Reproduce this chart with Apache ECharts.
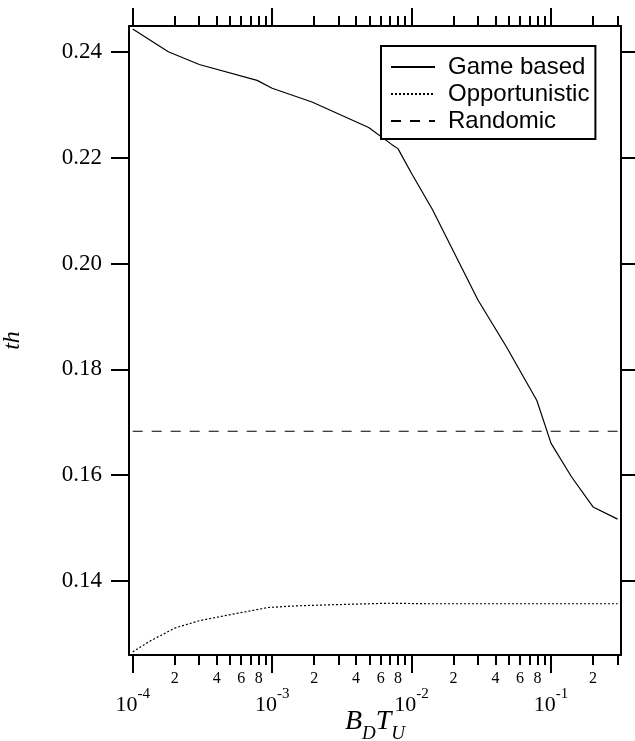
<!DOCTYPE html>
<html>
<head>
<meta charset="utf-8">
<script src="https://cdn.jsdelivr.net/npm/echarts@6/dist/echarts.min.js"></script>
<style>
  html, body { margin: 0; padding: 0; background: #fff; }
  #chart { width: 635px; height: 741px; }
</style>
</head>
<body>
<div id="chart"></div>
<script>
// B_D T_U values (x) and throughput th (y)
const gameX = [1e-4, 1.8e-4, 3e-4, 7.8e-4, 1e-3, 1.93e-3, 4.92e-3, 7.19e-3, 7.98e-3, 1e-2, 1.41e-2, 2.99e-2, 4.77e-2, 7.91e-2, 1e-1, 1.4e-1, 2e-1, 3e-1];
const gameY = [0.2443, 0.2400, 0.2376, 0.2346, 0.2331, 0.2305, 0.2257, 0.2225, 0.2217, 0.2170, 0.2102, 0.1931, 0.1843, 0.1741, 0.1660, 0.1597, 0.1540, 0.1517];

const oppX = [1e-4, 1.3e-4, 2e-4, 3e-4, 4.9e-4, 9.4e-4, 1.47e-3, 2.54e-3, 6.84e-3, 1.32e-2, 3e-1];
const oppY = [0.1266, 0.1285, 0.1311, 0.1325, 0.1336, 0.1350, 0.1353, 0.1355, 0.1358, 0.1357, 0.1357];

const randX = [1e-4, 3e-1];
const randY = [0.1683, 0.1683];

const yTicks = [0.14, 0.16, 0.18, 0.20, 0.22, 0.24];
const decades = [-4, -3, -2, -1];
const minorMult = [2, 3, 4, 5, 6, 7, 8, 9];
const minorLabelMult = [2, 4, 6, 8];

const xMin = -4.0265, xMax = -0.4985;
const yMin = 0.12602, yMax = 0.24487;

const lg = Math.log10;
const minorTicks = [];
const minorLabels = [];
decades.forEach(d => {
  minorMult.forEach(m => {
    const v = lg(m) + d;
    if (v <= xMax) minorTicks.push(v);
  });
  minorLabelMult.forEach(m => {
    const v = lg(m) + d;
    if (v <= xMax) minorLabels.push(v);
  });
});

const serif = 'Liberation Serif';
const sans = 'Liberation Sans';

function xAxis(pos, major, withLine) {
  return {
    type: 'value', position: pos, min: xMin, max: xMax,
    axisLine: { show: withLine, onZero: false, lineStyle: { color: '#000', width: 2 } },
    axisTick: { show: true, inside: false, length: major ? 18 : 10, customValues: major ? decades : minorTicks, lineStyle: { color: '#000', width: 2 } },
    axisLabel: { show: false },
    splitLine: { show: false }
  };
}

const xAxes = [
  xAxis('bottom', false, true),
  xAxis('bottom', true, false),
  xAxis('top', false, true),
  xAxis('top', true, false)
];
xAxes[0].axisLabel = {
  show: true, customValues: minorLabels, margin: 16,
  fontFamily: serif, fontSize: 16, color: '#000',
  formatter: v => String(Math.round(Math.pow(10, v - Math.floor(v + 1e-9))))
};
xAxes[1].axisLabel = {
  show: true, customValues: decades, margin: 32,
  formatter: v => '{b|10}{s|' + Math.round(v) + '}',
  rich: {
    b: { fontFamily: serif, fontSize: 22, lineHeight: 22, padding: [7, 0, 0, 0], verticalAlign: 'top', color: '#000' },
    s: { fontFamily: serif, fontSize: 15, lineHeight: 15, verticalAlign: 'top', color: '#000' }
  }
};
xAxes[1].name = '{i|B}{sub|D}{i|T}{sub|U}';
xAxes[1].nameLocation = 'middle';
xAxes[1].nameGap = 53;
xAxes[1].nameMoveOverlap = false;
xAxes[1].nameTextStyle = {
  rich: {
    i: { fontFamily: serif, fontStyle: 'italic', fontSize: 28, lineHeight: 28, verticalAlign: 'top', color: '#000' },
    sub: { fontFamily: serif, fontStyle: 'italic', fontSize: 19, lineHeight: 19, padding: [16, 0, 0, 0], verticalAlign: 'top', color: '#000' }
  }
};

function yAxis(pos, labels) {
  return {
    type: 'value', position: pos, min: yMin, max: yMax,
    axisLine: { show: true, onZero: false, lineStyle: { color: '#000', width: 2 } },
    axisTick: { show: true, inside: false, length: 18, customValues: yTicks, lineStyle: { color: '#000', width: 2 } },
    axisLabel: labels ? {
      show: true, customValues: yTicks, margin: 27,
      fontFamily: serif, fontSize: 23, color: '#000',
      formatter: v => v.toFixed(2)
    } : { show: false },
    splitLine: { show: false }
  };
}
const yAxes = [yAxis('left', true), yAxis('right', false)];
yAxes[0].name = 'th';
yAxes[0].nameLocation = 'middle';
yAxes[0].nameGap = 104;
yAxes[0].nameMoveOverlap = false;
yAxes[0].nameTextStyle = { fontFamily: serif, fontStyle: 'italic', fontSize: 24, color: '#000' };

const toPairs = (xs, ys) => xs.map((x, i) => [lg(x), ys[i]]);

const option = {
  animation: false,
  backgroundColor: '#fff',
  color: ['#000', '#000', '#000'],
  grid: { left: 129, right: 14, top: 26, bottom: 86, containLabel: false, outerBoundsMode: 'none' },
  xAxis: xAxes,
  yAxis: yAxes,
  legend: {
    orient: 'vertical', left: 381, top: 46,
    backgroundColor: '#fff', borderColor: '#000', borderWidth: 2, borderRadius: 0,
    padding: [9, 6, 6, 9], itemGap: 3, itemWidth: 44, itemHeight: 14,
    itemStyle: { opacity: 0 },
    textStyle: { fontFamily: sans, fontSize: 24, lineHeight: 24, color: '#000', padding: [0, 0, 0, 8] },
    data: ['Game based', 'Opportunistic', 'Randomic']
  },
  series: [
    { name: 'Game based', type: 'line', symbol: 'none', data: toPairs(gameX, gameY),
      lineStyle: { color: '#000', width: 1.2, type: 'solid' } },
    { name: 'Opportunistic', type: 'line', symbol: 'none', data: toPairs(oppX, oppY),
      lineStyle: { color: '#000', width: 1.2, type: [2, 2] } },
    { name: 'Randomic', type: 'line', symbol: 'none', data: toPairs(randX, randY),
      lineStyle: { color: '#000', width: 1.2, type: [10, 9] } }
  ]
};

const chart = echarts.init(document.getElementById('chart'));
chart.setOption(option);
</script>
</body>
</html>
